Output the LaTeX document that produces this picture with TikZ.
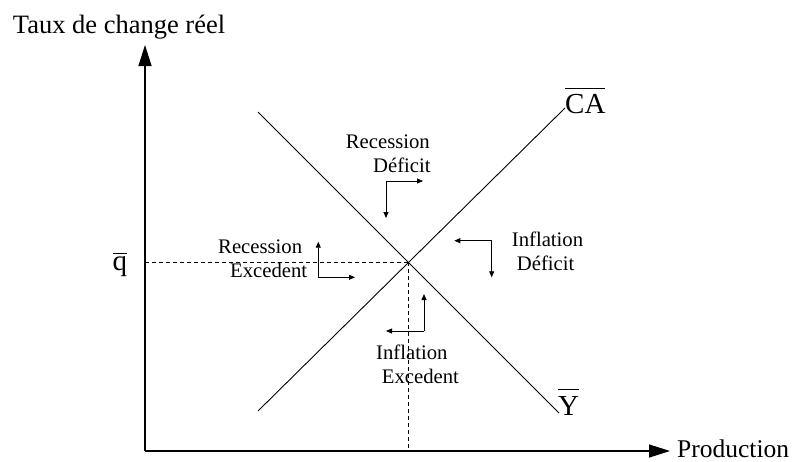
\documentclass[tikz,border=0pt]{standalone}
\usepackage{fontspec}
\setmainfont{Liberation Serif}
\usetikzlibrary{arrows.meta,intersections}
\newcommand\barred[2]{\setbox0\hbox{#1}\rlap{\raisebox{#2}{\rule{\wd0}{1pt}}}\box0}
\begin{document}
\begin{tikzpicture}[x=1pt,y=-1pt,
  lbl/.style={anchor=base west,inner sep=0pt,font=\fontsize{20.7}{24}\selectfont},
  axlbl/.style={anchor=base west,inner sep=0pt,font=\fontsize{26.5}{30}\selectfont},
  curvelbl/.style={anchor=base west,inner sep=0pt,font=\fontsize{29}{32}\selectfont},
  axisline/.style={line width=1.2pt,-{Triangle[length=21pt,width=13pt]}},
  curve/.style={line width=0.9pt},
  guide/.style={line width=0.8pt,dash pattern=on 4pt off 3pt},
  smallarr/.style={line width=0.8pt,-{Triangle[length=6pt,width=5pt]}}]
\useasboundingbox (0,0) rectangle (796,461);
% axes
\coordinate (O) at (145,451);
\coordinate (Ytop) at (145,45);
\coordinate (Xend) at (670,451);
\draw[axisline] (O) -- (Ytop);
\draw[axisline] (O) -- (Xend);
\node[axlbl] (ylab) at (12.7,33) {Taux de change réel};
\node[axlbl,font=\fontsize{25.5}{30}\selectfont] (xlab) at (677,457) {Production};
% curves
\coordinate (ca1) at (258,411);
\coordinate (ca2) at (565,108);
\coordinate (y1) at (258,112);
\coordinate (y2) at (559,413);
\draw[curve,name path=ca] (ca1) -- (ca2);
\draw[curve,name path=yy] (y1) -- (y2);
\path[name intersections={of=ca and yy,by=E}];
\draw[guide] (E) -- (E -| O);
\draw[guide] (E) -- (E |- O);
\node[curvelbl] (calab) at (565,113.3) {\barred{CA}{24.3pt}};
\node[curvelbl] (ylab2) at (558,415) {\barred{Y}{25pt}};
\node[curvelbl] (qlab) at (112.3,270.7) {\barred{q}{16.5pt}};
% region labels
\node[lbl] (rd1) at (345.7,148.3) {Recession};
\node[lbl] (rd2) at (373,172.3) {Déficit};
\node[lbl] (re1) at (218,253.3) {Recession};
\node[lbl] (re2) at (230,277.3) {Excedent};
\node[lbl] (id1) at (511.7,246) {Inflation};
\node[lbl] (id2) at (516.7,270) {Déficit};
\node[lbl] (ie1) at (376,359.3) {Inflation};
\node[lbl] (ie2) at (381.7,383.3) {Excedent};
% small arrows
\coordinate (c1) at (386,181);
\coordinate (c1a) at (423,181);
\coordinate (c1b) at (386,218);
\draw[smallarr] (c1) -- (c1a);
\draw[smallarr] (c1) -- (c1b);
\coordinate (c2) at (318.3,277.3);
\coordinate (c2a) at (318.3,241.7);
\coordinate (c2b) at (355,277.3);
\draw[smallarr] (c2) -- (c2a);
\draw[smallarr] (c2) -- (c2b);
\coordinate (c3) at (491.7,240.7);
\coordinate (c3a) at (454.3,240.7);
\coordinate (c3b) at (491.7,277.3);
\draw[smallarr] (c3) -- (c3a);
\draw[smallarr] (c3) -- (c3b);
\coordinate (c4) at (424,331);
\coordinate (c4a) at (424,294);
\coordinate (c4b) at (386,331);
\draw[smallarr] (c4) -- (c4a);
\draw[smallarr] (c4) -- (c4b);
\end{tikzpicture}
\end{document}
